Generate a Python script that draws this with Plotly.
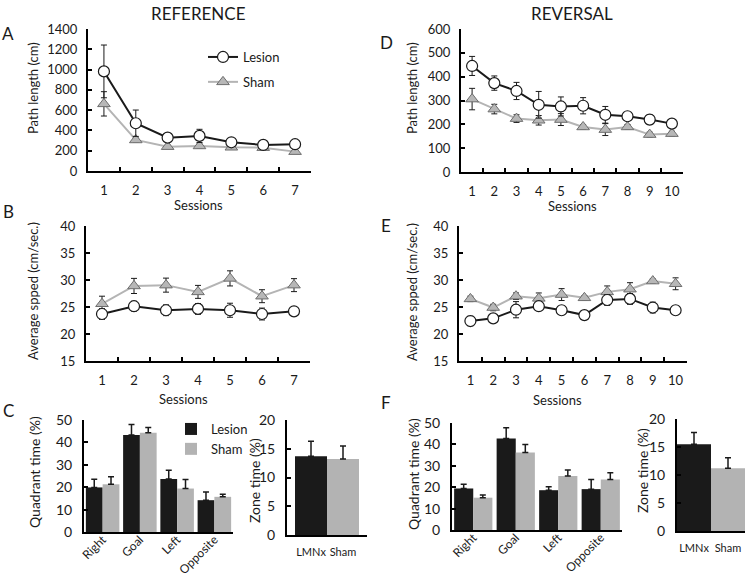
import plotly.graph_objects as go

# ---------------- data ----------------
sessions_ref = ['1', '2', '3', '4', '5', '6', '7']
sessions_rev = ['1', '2', '3', '4', '5', '6', '7', '8', '9', '10']

ref_path_lesion = [982, 471, 329, 346, 283, 257, 264]
ref_path_lesion_err = [260, 130, 20, 65, 25, 15, 15]
ref_path_sham = [662, 306, 240, 247, 234, 230, 191]
ref_path_sham_err = [120, 20, 15, 20, 15, 15, 15]

rev_path_lesion = [445, 373, 340, 282, 275, 278, 240, 234, 220, 203]
rev_path_lesion_err = [40, 30, 36, 56, 40, 34, 35, 10, 20, 10]
rev_path_sham = [306, 264, 224, 217, 220, 189, 178, 189, 157, 161]
rev_path_sham_err = [45, 20, 16, 20, 25, 10, 25, 10, 10, 10]

ref_speed_lesion = [23.7, 25.15, 24.4, 24.65, 24.4, 23.7, 24.2]
ref_speed_lesion_err = [1.0, 0.9, 1.0, 1.0, 1.3, 1.1, 0.3]
ref_speed_sham = [25.6, 28.9, 29.05, 27.8, 30.3, 27.0, 29.05]
ref_speed_sham_err = [1.4, 1.4, 1.3, 1.2, 1.4, 1.2, 1.2]

rev_speed_lesion = [22.4, 22.9, 24.5, 25.15, 24.4, 23.5, 26.3, 26.5, 24.9, 24.4]
rev_speed_lesion_err = [0.9, 0.4, 1.5, 0.4, 0.8, 0.8, 1.0, 1.0, 1.0, 0.8]
rev_speed_sham = [26.5, 24.9, 27.0, 26.6, 27.3, 26.7, 27.8, 28.3, 29.8, 29.3]
rev_speed_sham_err = [0.5, 0.6, 0.6, 1.0, 1.1, 0.4, 1.1, 1.2, 0.4, 1.1]

quadrants = ['Right', 'Goal', 'Left', 'Opposite']
ref_quad_lesion = [19.9, 43.3, 23.7, 14.2]
ref_quad_lesion_err = [3.7, 4.7, 3.9, 3.7]
ref_quad_sham = [21.3, 44.3, 19.4, 15.7]
ref_quad_sham_err = [3.4, 2.4, 4.0, 1.2]
rev_quad_lesion = [19.4, 42.7, 18.6, 19.1]
rev_quad_lesion_err = [2.0, 5.1, 1.6, 4.5]
rev_quad_sham = [15.1, 36.2, 25.2, 23.6]
rev_quad_sham_err = [1.2, 3.7, 2.8, 3.1]

zone_groups = ['LMNx', 'Sham']
ref_zone = [13.7, 13.2]
ref_zone_err = [2.6, 2.3]
rev_zone = [15.5, 11.2]
rev_zone_err = [2.1, 1.9]

# ---------------- styles ----------------
W, H = 750, 579
FONT = 'Lato'
TXT = '#1a1a1a'
BLACK = '#1a1a1a'
GRAY_LINE = '#b4b4b4'
GRAY_FILL = '#b7b7b7'
BAR_GRAY = '#b3b3b3'


def xd(a, b):
    return [a / W, b / W]


def yd(top, bottom):
    return [1 - bottom / H, 1 - top / H]


fig = go.Figure()

axis_common = dict(showline=True, linecolor='black', linewidth=2, showgrid=False,
                   zeroline=False, ticks='inside', ticklen=4, tickwidth=1.5,
                   tickcolor='black', tickangle=0,
                   tickfont=dict(family=FONT, size=13, color=TXT),
                   fixedrange=True)

layout_axes = {}


def add_line_panel(n, cats, les, les_e, sh, sh_e, xdom, ydom, yrng, dtick, legend=False):
    xa = 'x' if n == 1 else f'x{n}'
    ya = 'y' if n == 1 else f'y{n}'
    fig.add_trace(go.Scatter(
        x=cats, y=sh, mode='lines+markers', name='Sham', xaxis=xa, yaxis=ya,
        line=dict(color=GRAY_LINE, width=2),
        marker=dict(symbol='triangle-up', size=11, color=GRAY_FILL,
                    line=dict(color='#6e6e6e', width=1)),
        error_y=dict(type='data', array=sh_e, color=BLACK, thickness=1, width=3),
        showlegend=legend, legendgroup='sham', legendrank=2))
    fig.add_trace(go.Scatter(
        x=cats, y=les, mode='lines+markers', name='Lesion', xaxis=xa, yaxis=ya,
        line=dict(color=BLACK, width=2),
        marker=dict(symbol='circle', size=11, color='white',
                    line=dict(color=BLACK, width=1.2)),
        error_y=dict(type='data', array=les_e, color=BLACK, thickness=1, width=3),
        showlegend=legend, legendgroup='lesion', legendrank=1))
    layout_axes['xaxis' if n == 1 else f'xaxis{n}'] = dict(
        axis_common, domain=xdom, anchor=ya, type='category',
        range=[-0.5, len(cats) - 0.5], tickson='boundaries', ticklabelstandoff=6)
    layout_axes['yaxis' if n == 1 else f'yaxis{n}'] = dict(
        axis_common, domain=ydom, anchor=xa, range=yrng, dtick=dtick,
        tick0=yrng[0], ticklabelstandoff=6)


def add_quad_panel(n, les, les_e, sh, sh_e, xdom, ydom, legend=False):
    xa = f'x{n}'
    ya = f'y{n}'
    fig.add_trace(go.Bar(
        x=quadrants, y=les, name='Lesion', xaxis=xa, yaxis=ya,
        marker=dict(color=BLACK, line=dict(width=0)),
        error_y=dict(type='data', array=les_e, arrayminus=[0] * len(les),
                     symmetric=False, color=BLACK, thickness=1.5, width=3),
        showlegend=legend, legend='legend2', legendgroup='bl'))
    fig.add_trace(go.Bar(
        x=quadrants, y=sh, name='Sham', xaxis=xa, yaxis=ya,
        marker=dict(color=BAR_GRAY, line=dict(width=0)),
        error_y=dict(type='data', array=sh_e, arrayminus=[0] * len(sh),
                     symmetric=False, color=BLACK, thickness=1.5, width=3),
        showlegend=legend, legend='legend2', legendgroup='bs'))
    layout_axes[f'xaxis{n}'] = dict(
        axis_common, domain=xdom, anchor=ya, type='category',
        range=[-0.5, 3.5], ticks='', tickangle=-45, ticklabelstandoff=-6,
        tickfont=dict(family=FONT, size=12, color=TXT))
    layout_axes[f'yaxis{n}'] = dict(
        axis_common, domain=ydom, anchor=xa, range=[0, 50], dtick=10,
        ticklabelstandoff=7, tickfont=dict(family=FONT, size=14, color=TXT))


def add_zone_panel(n, vals, errs, xdom, ydom, xr):
    xa = f'x{n}'
    ya = f'y{n}'
    fig.add_trace(go.Bar(
        x=zone_groups, y=vals, xaxis=xa, yaxis=ya, width=1.0,
        marker=dict(color=[BLACK, BAR_GRAY], line=dict(width=0)),
        error_y=dict(type='data', array=errs, arrayminus=[0] * len(vals),
                     symmetric=False, color=BLACK, thickness=1.5, width=3),
        showlegend=False))
    layout_axes[f'xaxis{n}'] = dict(
        axis_common, domain=xdom, anchor=ya, type='category',
        range=xr, ticks='', ticklabelstandoff=6, tickangle=0,
        tickfont=dict(family=FONT, size=11, color=TXT))
    layout_axes[f'yaxis{n}'] = dict(
        axis_common, domain=ydom, anchor=xa, range=[0, 20], dtick=5,
        ticklabelstandoff=7, tickfont=dict(family=FONT, size=14, color=TXT))


# A
add_line_panel(1, sessions_ref, ref_path_lesion, ref_path_lesion_err,
               ref_path_sham, ref_path_sham_err, xd(88, 311), yd(29, 171), [0, 1400], 200,
               legend=True)
# D
add_line_panel(2, sessions_rev, rev_path_lesion, rev_path_lesion_err,
               rev_path_sham, rev_path_sham_err, xd(461, 683), yd(29, 172), [0, 600], 100)
# B
add_line_panel(3, sessions_ref, ref_speed_lesion, ref_speed_lesion_err,
               ref_speed_sham, ref_speed_sham_err, xd(86, 310), yd(226, 361), [15, 40], 5)
# E
add_line_panel(4, sessions_rev, rev_speed_lesion, rev_speed_lesion_err,
               rev_speed_sham, rev_speed_sham_err, xd(459, 687), yd(226, 361), [15, 40], 5)
# C left
add_quad_panel(5, ref_quad_lesion, ref_quad_lesion_err, ref_quad_sham, ref_quad_sham_err,
               xd(84, 233), yd(420, 532), legend=True)
# C right
add_zone_panel(6, ref_zone, ref_zone_err, xd(287, 367), yd(420, 535), [-0.75, 1.75])
# F left
add_quad_panel(7, rev_quad_lesion, rev_quad_lesion_err, rev_quad_sham, rev_quad_sham_err,
               xd(452, 622), yd(423, 530))
# F right
add_zone_panel(8, rev_zone, rev_zone_err, xd(677, 745), yd(419, 531), [-0.5, 1.5])

annotations = []


def text(x, y, s, size=12, angle=0, xanchor='center'):
    annotations.append(dict(x=x / W, y=1 - y / H, xref='paper', yref='paper', text=s,
                            showarrow=False, textangle=angle, xanchor=xanchor,
                            yanchor='middle',
                            font=dict(family=FONT, size=size, color=TXT)))


text(198, 13, 'REFERENCE', 17)
text(572, 13, 'REVERSAL', 17)
for lab, x, y in [('A', 8, 34), ('B', 8, 211), ('C', 8, 410),
                  ('D', 386, 42), ('E', 386, 225), ('F', 386, 402)]:
    text(x, y, lab, 17)
text(33, 88, 'Path length (cm)', 13, -90)
text(412, 88, 'Path length (cm)', 13, -90)
text(33, 291, 'Average spped (cm/sec.)', 13, -90)
text(412, 292, 'Average spped (cm/sec.)', 13, -90)
text(34, 472, 'Quadrant time (%)', 14, -90)
text(254, 481, 'Zone time (%)', 14, -90)
text(413, 474, 'Quadrant time (%)', 14, -90)
text(642, 471, 'Zone time (%)', 14, -90)
text(198, 205, 'Sessions', 13)
text(572, 206, 'Sessions', 13)
text(183, 399, 'Sessions', 13)
text(557, 400, 'Sessions', 13)

fig.update_layout(
    width=W, height=H, margin=dict(l=0, r=0, t=0, b=0, autoexpand=False),
    paper_bgcolor='white', plot_bgcolor='rgba(0,0,0,0)',
    barmode='group', bargap=0.1, bargroupgap=0,
    font=dict(family=FONT, size=12, color=TXT),
    annotations=annotations,
    legend=dict(x=203 / W, y=1 - 42 / H, xanchor='left', yanchor='top',
                traceorder='grouped', tracegroupgap=5,
                bgcolor='rgba(0,0,0,0)', font=dict(family=FONT, size=13, color=TXT),
                itemwidth=30),
    legend2=dict(x=171 / W, y=1 - 414 / H, xanchor='left', yanchor='top',
                 traceorder='normal', tracegroupgap=0,
                 bgcolor='rgba(0,0,0,0)', font=dict(family=FONT, size=13, color=TXT),
                 itemwidth=30),
    **layout_axes,
)

fig.write_html('out.html', config={'displayModeBar': False},
               post_script="document.body.style.margin='0px';")
